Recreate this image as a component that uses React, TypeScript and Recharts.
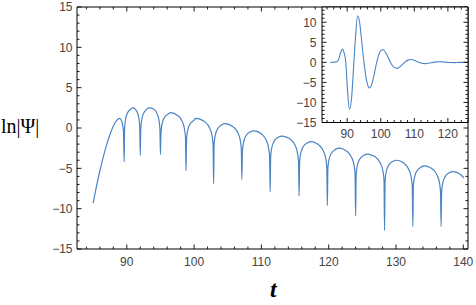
import { LineChart, Line, XAxis, YAxis } from 'recharts';

const LINE = '#4a84c4';
const FRAME = '#000';
const LABEL = '#444';
const FONT = '"Liberation Sans", Arial, sans-serif';

// main panel: ln|Psi| against t (cusps are the zeros of Psi)
const tMain = [
  85, 85.5, 86, 86.5, 87, 87.5, 88, 88.5, 88.9, 89.1, 89.35, 89.52, 89.6,
  89.68, 89.85, 90.1, 90.4, 90.85, 91.2, 91.5, 91.75, 91.92, 92.0,
  92.08, 92.25, 92.6, 93.0, 93.3, 94.0, 94.4, 94.75, 94.92, 95.0,
  95.08, 95.25, 95.6, 96.2, 96.5, 97.6, 98.2, 98.55, 98.72, 98.8,
  98.88, 99.05, 99.4, 100.0, 100.2, 101.7, 102.3, 102.65, 102.82, 102.9,
  102.98, 103.15, 103.5, 104.1, 104.6, 105.9, 106.5, 106.85, 107.02, 107.1,
  107.18, 107.35, 107.7, 108.3, 108.9, 109.5, 110.1, 110.7, 111.05, 111.22, 111.3,
  111.38, 111.55, 111.9, 112.5, 113.1, 113.7, 114.4, 115.0, 115.35, 115.52, 115.6,
  115.68, 115.85, 116.2, 116.8, 117.4, 118.0, 118.6, 119.2, 119.55, 119.72, 119.8,
  119.88, 120.05, 120.4, 121.0, 121.6, 122.2, 122.8, 123.4, 123.75, 123.92, 124.0,
  124.08, 124.25, 124.6, 125.2, 125.8, 126.4, 127.1, 127.7, 128.05, 128.22, 128.3,
  128.38, 128.55, 128.9, 129.5, 130.1, 130.7, 131.3, 131.9, 132.25, 132.42, 132.5,
  132.58, 132.75, 133.1, 133.7, 134.3, 134.9, 135.5, 136.1, 136.45, 136.62, 136.7,
  136.78, 136.95, 137.3, 137.9, 138.5, 139.1, 139.7, 140.1,
];
const lnPsi = [
  -9.3, -7.2, -5.3, -3.6, -2.1, -0.8, 0.25, 0.95, 1.2, 1.1, 0.5, -0.6, -4.2,
  0.05, 1.2, 1.85, 2.2, 2.5, 2.4, 2.05, 1.4, 0.3, -3.4,
  0.0, 1.15, 1.97, 2.36, 2.5, 2.35, 1.95, 1.1, -0.05, -3.3,
  -0.58, 0.53, 1.31, 1.77, 1.9, 1.53, 0.87, -0.03, -1.2, -5.3,
  -1.4, -0.3, 0.5, 0.98, 1.2, 0.7, 0.0, -0.9, -2.05, -6.9,
  -2.0, -0.9, -0.1, 0.39, 0.55, 0.08, -0.6, -1.5, -2.7, -6.4,
  -2.88, -1.77, -0.98, -0.5, -0.35, -0.48, -0.8, -1.49, -2.4, -3.56, -7.9,
  -3.53, -2.42, -1.63, -1.15, -1.0, -1.13, -1.45, -2.14, -3.05, -4.21, -8.4,
  -4.23, -3.12, -2.33, -1.85, -1.7, -1.83, -2.15, -2.84, -3.75, -4.91, -9.6,
  -5.03, -3.92, -3.13, -2.65, -2.5, -2.63, -2.95, -3.64, -4.55, -5.71, -10.9,
  -5.78, -4.67, -3.88, -3.4, -3.25, -3.38, -3.7, -4.39, -5.3, -6.46, -12.7,
  -6.53, -5.42, -4.63, -4.15, -4.0, -4.13, -4.45, -5.14, -6.05, -7.21, -12.2,
  -7.23, -6.12, -5.33, -4.85, -4.7, -4.83, -5.15, -5.84, -6.75, -7.91, -12.2,
  -7.93, -6.82, -6.03, -5.55, -5.4, -5.53, -5.85, -6.2,
];

// inset: Psi against t
const tInset = [
  85, 86, 86.8, 87.4, 88.0, 88.6, 89.1, 89.6, 90.1, 90.7, 91.3, 92.0,
  92.5, 93.1, 93.7, 94.3, 95.0, 95.8, 96.7, 97.7, 98.8, 99.7, 100.6, 101.7,
  102.9, 103.9, 104.9, 106.0, 107.1, 108.1, 109.1, 110.2, 111.3, 112.4, 113.4,
  114.5, 115.6, 116.6, 117.6, 118.7, 119.8, 120.9, 121.9, 123.0, 124.0, 126.0,
];
const psi = [
  0, 0.02, 0.15, 0.6, 2.3, 3.3, 2.3, 0, -7.0, -11.7, -9.0, 0,
  6.5, 11.6, 10.0, 5.5, 0, -4.6, -6.4, -4.3, 0, 2.5, 3.2, 2.1,
  0, -1.2, -1.5, -0.9, 0, 0.55, 0.7, 0.4, 0, -0.28, -0.32,
  -0.18, 0, 0.12, 0.15, 0.08, 0, -0.05, -0.06, -0.03, 0, 0.02,
];

// labelled (major) ticks
const mainXLabels = [90, 100, 110, 120, 130, 140];
const mainYLabels = [-15, -10, -5, 0, 5, 10, 15];
const insetXLabels = [90, 100, 110, 120];
const insetYLabels = [-15, -10, -5, 0, 5, 10];

const range = (a: number, b: number, s: number) => {
  const out: number[] = [];
  for (let v = a; v <= b + 1e-9; v += s) out.push(v);
  return out;
};
const mainXTicks = range(84, 140, 2);
const mainYTicks = range(-15, 15, 1);
const insetXTicks = range(84, 126, 2);
const insetYTicks = range(-15, 13, 1);

const mainData = tMain.map((t, i) => ({ t, v: lnPsi[i] }));
const insetData = tInset.map((t, i) => ({ t, v: psi[i] }));

const fmt = (v: number) => (v < 0 ? '\u2212' + Math.abs(v) : String(v));

// Mathematica-style frame tick: drawn inward, optional label outside
// eslint-disable-next-line @typescript-eslint/no-explicit-any
function FrameTick({ x, y, payload, side, majors, showLabel, gap }: any) {
  const v = payload.value as number;
  const major = majors.includes(v);
  const len = major ? 4.5 : 2.5;
  let x2 = x, y2 = y;
  if (side === 'bottom') y2 = y - len;
  if (side === 'top') y2 = y + len;
  if (side === 'left') x2 = x + len;
  if (side === 'right') x2 = x - len;
  return (
    <g>
      <line x1={x} y1={y} x2={x2} y2={y2} stroke={FRAME} strokeWidth={0.9} />
      {showLabel && major && side === 'bottom' && (
        <text x={x} y={y + gap} textAnchor="middle" fontSize={12} fill={LABEL} fontFamily={FONT}>{fmt(v)}</text>
      )}
      {showLabel && major && side === 'left' && (
        <text x={x - gap} y={y + 4.3} textAnchor="end" fontSize={12} fill={LABEL} fontFamily={FONT}>{fmt(v)}</text>
      )}
    </g>
  );
}

const axisLine = { stroke: FRAME, strokeWidth: 1 };

export default function App() {
  return (
    <div style={{ position: 'fixed', left: 0, top: 0, width: 476, height: 305, background: '#fff' }}>
      <LineChart width={476} height={305} data={mainData} margin={{ top: 0, right: 0, bottom: 0, left: 0 }}>
        <XAxis
          xAxisId="b" dataKey="t" type="number" domain={[82.6, 140.7]} allowDataOverflow
          ticks={mainXTicks} interval={0} tickSize={0} tickMargin={0} height={56} axisLine={axisLine}
          tick={(p: any) => <FrameTick {...p} side="bottom" majors={mainXLabels} showLabel gap={17} />}
        />
        <XAxis
          xAxisId="t" orientation="top" dataKey="t" type="number" domain={[82.6, 140.7]} allowDataOverflow
          ticks={mainXTicks} interval={0} tickSize={0} tickMargin={0} height={7} axisLine={axisLine}
          tick={(p: any) => <FrameTick {...p} side="top" majors={mainXLabels} />}
        />
        <YAxis
          yAxisId="l" type="number" domain={[-15, 15]} allowDataOverflow
          ticks={mainYTicks} interval={0} tickSize={0} tickMargin={0} width={77} axisLine={axisLine}
          tick={(p: any) => <FrameTick {...p} side="left" majors={mainYLabels} showLabel gap={4.5} />}
        />
        <YAxis
          yAxisId="r" orientation="right" type="number" domain={[-15, 15]} allowDataOverflow
          ticks={mainYTicks} interval={0} tickSize={0} tickMargin={0} width={8} axisLine={axisLine}
          tick={(p: any) => <FrameTick {...p} side="right" majors={mainYLabels} />}
        />
        <Line
          xAxisId="b" yAxisId="l" dataKey="v" type="monotone" stroke={LINE} strokeWidth={1.2}
          dot={false} isAnimationActive={false}
        />
      </LineChart>

      {/* inset */}
      <div style={{ position: 'absolute', left: 322, top: 7, width: 146, height: 115.5, background: '#fff' }} />
      <div style={{ position: 'absolute', left: 272, top: 0 }}>
        <LineChart width={204} height={145} data={insetData} margin={{ top: 0, right: 0, bottom: 0, left: 0 }}>
          <XAxis
            xAxisId="b" dataKey="t" type="number" domain={[82.5, 126]} allowDataOverflow
            ticks={insetXTicks} interval={0} tickSize={0} tickMargin={0} height={22.5} axisLine={axisLine}
            tick={(p: any) => <FrameTick {...p} side="bottom" majors={insetXLabels} showLabel gap={15} />}
          />
          <XAxis
            xAxisId="t" orientation="top" dataKey="t" type="number" domain={[82.5, 126]} allowDataOverflow
            ticks={insetXTicks} interval={0} tickSize={0} tickMargin={0} height={7} axisLine={axisLine}
            tick={(p: any) => <FrameTick {...p} side="top" majors={insetXLabels} />}
          />
          <YAxis
            yAxisId="l" type="number" domain={[-15, 13.8]} allowDataOverflow
            ticks={insetYTicks} interval={0} tickSize={0} tickMargin={0} width={50} axisLine={axisLine}
            tick={(p: any) => <FrameTick {...p} side="left" majors={insetYLabels} showLabel gap={5.5} />}
          />
          <YAxis
            yAxisId="r" orientation="right" type="number" domain={[-15, 13.8]} allowDataOverflow
            ticks={insetYTicks} interval={0} tickSize={0} tickMargin={0} width={8} axisLine={axisLine}
            tick={(p: any) => <FrameTick {...p} side="right" majors={insetYLabels} />}
          />
          <Line
            xAxisId="b" yAxisId="l" dataKey="v" type="monotone" stroke={LINE} strokeWidth={1.1}
            dot={false} isAnimationActive={false}
          />
        </LineChart>
      </div>

      {/* axis titles */}
      <div style={{ position: 'absolute', left: 1, top: 116, fontFamily: '"Liberation Serif", serif', fontSize: 20, lineHeight: '20px', color: '#000', whiteSpace: 'nowrap' }}>
        ln|Ψ|
      </div>
      <div style={{ position: 'absolute', left: 270, top: 277, fontFamily: '"Liberation Serif", serif', fontSize: 24, lineHeight: '24px', fontWeight: 'bold', fontStyle: 'italic', color: '#000' }}>
        t
      </div>
    </div>
  );
}
